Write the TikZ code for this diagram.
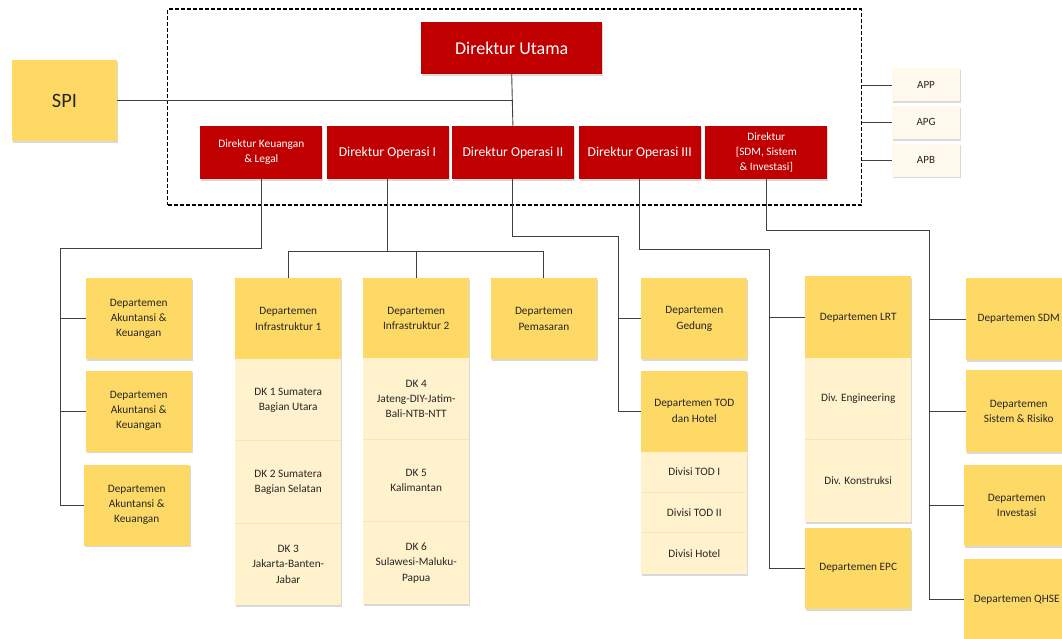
\documentclass[tikz,border=0pt]{standalone}
\usepackage{fontspec}
\setmainfont{Carlito}
\usetikzlibrary{shadows}
\definecolor{dred}{HTML}{C00000}
\definecolor{gold}{HTML}{FFD966}
\definecolor{cellc}{HTML}{FFF2CC}
\definecolor{cream}{HTML}{FEF9EC}
\definecolor{lin}{HTML}{404040}
\definecolor{txt}{HTML}{262626}
\definecolor{sepc}{HTML}{F6E6BA}
\begin{document}
\begin{tikzpicture}[x=1pt,y=-1pt,
  base/.style={inner sep=0pt, align=center, drop shadow={shadow xshift=1pt, shadow yshift=-1.8pt, opacity=0.3}},
  redbox/.style={base, fill=dred, text=white, minimum width=122pt, minimum height=53pt},
  dirsmall/.style={font=\fontsize{11.4}{15.2}\selectfont},
  dirop/.style={font=\fontsize{13.6}{16}\selectfont},
  deptbox/.style={base, fill=gold, text=txt, font=\fontsize{11.3}{15.3}\selectfont, minimum width=106pt, minimum height=81pt},
  cellbox/.style={base, fill=cellc, text=txt, font=\fontsize{11.3}{15.3}\selectfont, minimum width=106pt},
  smallbox/.style={base, fill=cream, text=txt, font=\fontsize{11}{13}\selectfont, minimum width=68pt, minimum height=33pt},
  dashbox/.style={draw=black, line width=1.3pt, dash pattern=on 4pt off 2pt, inner sep=0pt, minimum width=693.6pt, minimum height=196pt},
  conn/.style={draw=lin, line width=0.9pt},
  sepline/.style={draw=sepc, line width=0.8pt},
]
\useasboundingbox (0,0) rectangle (1062,639);
\clip (0,0) rectangle (1062,639);

% board frame
\node[dashbox] (board) at (514.5,107) {};

% top level
\node[redbox, minimum width=181pt, minimum height=52pt, font=\fontsize{18}{20}\selectfont] (utama) at (511.7,47.9) {Direktur Utama};
\node[deptbox, minimum width=105pt, minimum height=81pt, font=\fontsize{20.4}{22}\selectfont] (spi) at (64.5,100.5) {SPI};

% directors
\node[redbox, dirsmall] (keu) at (261.3,152.4) {Direktur Keuangan\\\& Legal};
\node[redbox, dirop] (op1) at (387.5,152.4) {Direktur Operasi I};
\node[redbox, dirop] (op2) at (512.9,152.4) {Direktur Operasi II};
\node[redbox, dirop] (op3) at (639.7,152.4) {Direktur Operasi III};
\node[redbox, font=\fontsize{11.3}{14.8}\selectfont] (sdm) at (766.3,152.4) {Direktur\\{[}SDM, Sistem\\\& Investasi{]}};

% committees
\node[smallbox] (app) at (926,85) {APP};
\node[smallbox] (apg) at (926,122.4) {APG};
\node[smallbox] (apb) at (926,160.2) {APB};

% Keuangan departments
\node[deptbox] (ak1) at (138.7,318.8) {Departemen\\Akuntansi \&\\Keuangan};
\node[deptbox] (ak2) at (138.7,411) {Departemen\\Akuntansi \&\\Keuangan};
\node[deptbox] (ak3) at (136.7,505) {Departemen\\Akuntansi \&\\Keuangan};

% Operasi I departments
\node[deptbox] (inf1) at (288.2,318.8) {Departemen\\Infrastruktur 1};
\node[cellbox, minimum height=81.4pt] (dk1) at (288.2,400) {DK 1 Sumatera\\Bagian Utara};
\node[cellbox, minimum height=82.6pt] (dk2) at (288.2,482) {DK 2 Sumatera\\Bagian Selatan};
\node[cellbox, minimum height=81.7pt] (dk3) at (288.2,564.2) {DK 3\\Jakarta-Banten-\\Jabar};

\node[deptbox, minimum height=80pt] (inf2) at (416.2,318.3) {Departemen\\Infrastruktur 2};
\node[cellbox, minimum height=81.4pt] (dk4) at (416.2,399) {DK 4\\Jateng-DIY-Jatim-\\Bali-NTB-NTT};
\node[cellbox, minimum height=82pt] (dk5) at (416.2,480.7) {DK 5\\Kalimantan};
\node[cellbox, minimum height=82.3pt] (dk6) at (416.2,562.9) {DK 6\\Sulawesi-Maluku-\\Papua};

\node[deptbox] (pem) at (543.9,318.8) {Departemen\\Pemasaran};

% Operasi II departments
\node[deptbox] (ged) at (694.3,318.8) {Departemen\\Gedung};
\node[deptbox] (tod) at (694.3,411) {Departemen TOD\\dan Hotel};
\node[cellbox, minimum height=40.6pt] (tod1) at (694.3,472) {Divisi TOD I};
\node[cellbox, minimum height=40.4pt] (tod2) at (694.3,512.5) {Divisi TOD II};
\node[cellbox, minimum height=41.3pt] (hot) at (694.3,553.35) {Divisi Hotel};

% Operasi III departments
\node[deptbox, minimum height=82pt] (lrt) at (858.2,317.3) {Departemen LRT};
\node[cellbox, minimum height=81pt] (eng) at (858.2,398.8) {Div. Engineering};
\node[cellbox, minimum height=82.4pt] (kon) at (858.2,480.5) {Div. Konstruksi};
\node[deptbox] (epc) at (858.2,568.2) {Departemen EPC};

% SDM departments
\node[deptbox, minimum height=82pt] (dsdm) at (1018.7,319) {Departemen SDM};
\node[deptbox, minimum height=82pt] (sis) at (1018.7,411.3) {Departemen\\Sistem \& Risiko};
\node[deptbox] (inv) at (1016.7,505.4) {Departemen\\Investasi};
\node[deptbox] (qhse) at (1016.7,599.5) {Departemen QHSE};

% cell separators
\foreach \c in {dk2,dk3,dk5,dk6,tod2,hot,kon}
  \draw[sepline] (\c.north west) -- (\c.north east);

% connectors
\draw[conn] (spi.east) -- (spi.east -| utama.south);
\draw[conn] (utama.south) -- (op2.north);

\draw[conn] (board.east |- app.west) -- (app.west);
\draw[conn] (board.east |- apg.west) -- (apg.west);
\draw[conn] (board.east |- apb.west) -- (apb.west);

\coordinate (kbus) at (60,248);
\draw[conn] (keu.south) |- (kbus) |- (ak3.west);
\draw[conn] (kbus |- ak1.west) -- (ak1.west);
\draw[conn] (kbus |- ak2.west) -- (ak2.west);

\coordinate (obusa) at (387.5,251.7);
\draw[conn] (op1.south) -- (obusa);
\draw[conn] (inf1.north) |- (obusa) -| (pem.north);
\draw[conn] (inf2.north) -- (inf2.north |- obusa);

\coordinate (obusb) at (618.3,236.7);
\draw[conn] (op2.south) |- (obusb) |- (tod.west);
\draw[conn] (obusb |- ged.west) -- (ged.west);

\coordinate (obusc) at (769.3,249.3);
\draw[conn] (op3.south) |- (obusc) |- (epc.west);
\draw[conn] (obusc |- lrt.west) -- (lrt.west);

\coordinate (sbus) at (929.7,230.7);
\draw[conn] (sdm.south) |- (sbus) |- (qhse.west);
\draw[conn] (sbus |- dsdm.west) -- (dsdm.west);
\draw[conn] (sbus |- sis.west) -- (sis.west);
\draw[conn] (sbus |- inv.west) -- (inv.west);
\end{tikzpicture}
\end{document}
